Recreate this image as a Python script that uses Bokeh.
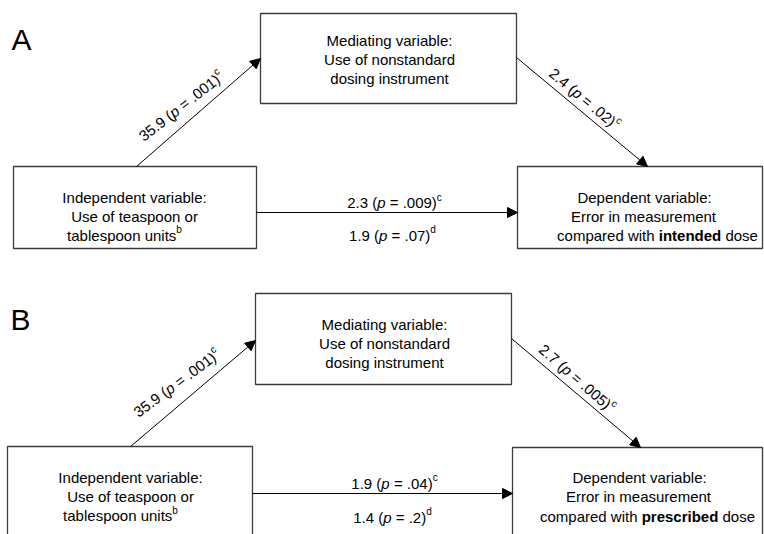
import math
from bokeh.plotting import figure
from bokeh.models import ColumnDataSource, Range1d, Arrow, NormalHead
from bokeh.core.properties import value
from bokeh.embed import file_html
from bokeh.resources import INLINE

# ---------------- data ----------------
panels = ["A", "B"]
a_coef = ["35.9", "35.9"]          # X -> M
a_p = [".001", ".001"]
b_coef = ["2.4", "2.7"]            # M -> Y
b_p = [".02", ".005"]
c_coef = ["2.3", "1.9"]            # total effect X -> Y
c_p = [".009", ".04"]
d_coef = ["1.9", "1.4"]            # direct effect X -> Y
d_p = [".07", ".2"]
dose_kind = ["intended", "prescribed"]
mediator_lines = ["Mediating variable:", "Use of nonstandard", "dosing instrument"]
indep_lines = ["Independent variable:", "Use of teaspoon or", "tablespoon units"]
dep_lines = ["Dependent variable:", "Error in measurement", "compared with "]
sup_indep = "b"
sup_total = "c"
sup_direct = "d"

# ---------------- layout (page pixels) ----------------
FONT = "Liberation Sans"
FS = 15
SUP = 10
RAISE = 5.5
LAYOUT = {
    "A": dict(label=(11, 38.5, 30),
              med=(260, 516, 13, 103), ind=(13, 256, 166, 248), dep=(517, 762, 166, 248),
              med_x=[389, 389, 389], med_y=[39.5, 58.5, 77.5],
              ind_x=[134, 134, 124], ind_y=[197, 216, 234.5],
              dep_x=[644, 643, 657], dep_y=[197, 215.5, 234.5],
              a_arrow=(136, 166, 260, 58), b_arrow=(516, 57, 647, 166), c_arrow=(256, 212, 517, 212),
              a_lab=(22, 19, 38), b_lab=(35.5, 12, -39.8), c_lab=(394, 202), d_lab=(392, 234.5)),
    "B": dict(label=(10, 318.5, 30),
              med=(255, 511, 293, 384), ind=(7, 252, 446, 545), dep=(512, 762, 447, 545),
              med_x=[384, 384, 384], med_y=[324, 343, 362],
              ind_x=[130, 130, 120], ind_y=[476.5, 496, 515],
              dep_x=[639, 638, 647], dep_y=[476.5, 496, 515.5],
              a_arrow=(130, 446, 255, 340), b_arrow=(511, 338, 640, 447), c_arrow=(252, 493, 512, 493),
              a_lab=(25, 22, 36.5), b_lab=(28.5, 12.7, -41), c_lab=(394, 482.5), d_lab=(392, 516.5)),
}

# Arial / Liberation Sans advance widths (1/1000 em)
W_REG = {' ': 278, '(': 333, ')': 333, '.': 278, '=': 584, ':': 278,
         'a': 556, 'b': 556, 'c': 500, 'd': 556, 'e': 556, 'f': 278, 'g': 556, 'h': 556,
         'i': 222, 'j': 222, 'k': 500, 'l': 222, 'm': 833, 'n': 556, 'o': 556, 'p': 556,
         'q': 556, 'r': 333, 's': 500, 't': 278, 'u': 556, 'v': 500, 'w': 722, 'x': 500,
         'y': 500, 'z': 500, 'A': 667, 'B': 667, 'D': 722, 'E': 667, 'I': 278, 'M': 833, 'U': 722}
for _d in "0123456789":
    W_REG[_d] = 556
W_BOLD = {' ': 278, 'a': 556, 'b': 611, 'c': 556, 'd': 611, 'e': 556, 'i': 278, 'n': 611,
          'p': 611, 'r': 389, 's': 556, 't': 333}


def width(s, style, size):
    tbl = W_BOLD if style == "b" else W_REG
    return sum(tbl.get(ch, 556) for ch in s) / 1000.0 * size


glyphs = {"n": [], "i": [], "b": [], "s": []}


def rich(x, y, pieces, angle_deg=0.0, align="center"):
    a = math.radians(angle_deg)
    ux, uy = math.cos(a), -math.sin(a)
    nx, ny = -math.sin(a), -math.cos(a)
    sizes = [SUP if st == "s" else FS for _, st in pieces]
    widths = [width(t, st, sz) for (t, st), sz in zip(pieces, sizes)]
    total = sum(widths)
    off = -total / 2.0 if align == "center" else 0.0
    for (t, st), w, sz in zip(pieces, widths, sizes):
        lead = len(t) - len(t.lstrip(" "))
        txt = t.strip(" ")
        if txt:
            o = off + width(" " * lead, st, sz)
            px, py = x + ux * o, y + uy * o
            if st == "s":
                px += nx * RAISE
                py += ny * RAISE
            glyphs[st].append((px, py, txt, a))
        off += w


def coef_label(coef, pval, sup):
    return [(coef + " (", "n"), ("p", "i"), (" = " + pval + ")", "n"), (sup, "s")]


p = figure(width=764, height=534, x_range=Range1d(0, 764), y_range=Range1d(534, 0),
           output_backend="svg", toolbar_location=None, min_border=0,
           x_axis_location=None, y_axis_location=None)
p.grid.visible = False
p.outline_line_color = None
p.background_fill_color = "white"
p.border_fill_color = "white"

box_l, box_r, box_t, box_b = [], [], [], []
arr = dict(x0=[], y0=[], x1=[], y1=[])
lab = dict(x=[], y=[], text=[], size=[])

for i, pn in enumerate(panels):
    L = LAYOUT[pn]
    lx, ly, ls = L["label"]
    lab["x"].append(lx); lab["y"].append(ly); lab["text"].append(pn); lab["size"].append(f"{ls}px")
    for key in ("med", "ind", "dep"):
        l, r, t, b = L[key]
        box_l.append(l); box_r.append(r); box_t.append(t); box_b.append(b)
    for key in ("a_arrow", "b_arrow", "c_arrow"):
        x0, y0, x1, y1 = L[key]
        arr["x0"].append(x0); arr["y0"].append(y0); arr["x1"].append(x1); arr["y1"].append(y1)

    for k, line in enumerate(mediator_lines):
        rich(L["med_x"][k], L["med_y"][k], [(line, "n")])
    for k, line in enumerate(indep_lines):
        pieces = [(line, "n")] + ([(sup_indep, "s")] if k == 2 else [])
        rich(L["ind_x"][k], L["ind_y"][k], pieces)
    for k, line in enumerate(dep_lines):
        if k == 2:
            pieces = [(line, "n"), (dose_kind[i], "b"), (" dose", "n")]
        else:
            pieces = [(line, "n")]
        rich(L["dep_x"][k], L["dep_y"][k], pieces)

    # diagonal labels, anchored along their arrows
    for key_arr, key_lab, coef, pv in (("a_arrow", "a_lab", a_coef[i], a_p[i]),
                                       ("b_arrow", "b_lab", b_coef[i], b_p[i])):
        x0, y0, x1, y1 = L[key_arr]
        ln = math.hypot(x1 - x0, y1 - y0)
        ux, uy = (x1 - x0) / ln, (y1 - y0) / ln
        t, d, ang = L[key_lab]
        ax = x0 + t * ux + d * uy
        ay = y0 + t * uy - d * ux
        rich(ax, ay, coef_label(coef, pv, sup_total), angle_deg=ang, align="left")

    cx, cy = L["c_lab"]
    rich(cx, cy, coef_label(c_coef[i], c_p[i], sup_total))
    dx, dy = L["d_lab"]
    rich(dx, dy, coef_label(d_coef[i], d_p[i], sup_direct))

p.quad(left=box_l, right=box_r, top=box_t, bottom=box_b,
       fill_color="white", line_color="#3c3c3c", line_width=1.3)

arrow_src = ColumnDataSource(arr)
p.add_layout(Arrow(end=NormalHead(size=10, fill_color="black", line_color="black", line_width=1),
                   x_start="x0", y_start="y0", x_end="x1", y_end="y1",
                   source=arrow_src, line_color="black", line_width=1))

styles = {"n": ("normal", f"{FS}px"), "i": ("italic", f"{FS}px"),
          "b": ("bold", f"{FS}px"), "s": ("normal", f"{SUP}px")}
for st, items in glyphs.items():
    if not items:
        continue
    src = ColumnDataSource(dict(x=[it[0] for it in items], y=[it[1] for it in items],
                                text=[it[2] for it in items], angle=[it[3] for it in items]))
    fstyle, fsize = styles[st]
    p.text(x="x", y="y", text="text", angle="angle", source=src,
           text_font=value(FONT), text_font_size=fsize, text_font_style=fstyle,
           text_align="left", text_baseline="alphabetic", text_color="black")

p.text(x="x", y="y", text="text", source=ColumnDataSource(lab), text_font=value(FONT),
       text_font_size="size", text_align="left", text_baseline="alphabetic", text_color="black")

open("out.html", "w").write(file_html(p, INLINE))
